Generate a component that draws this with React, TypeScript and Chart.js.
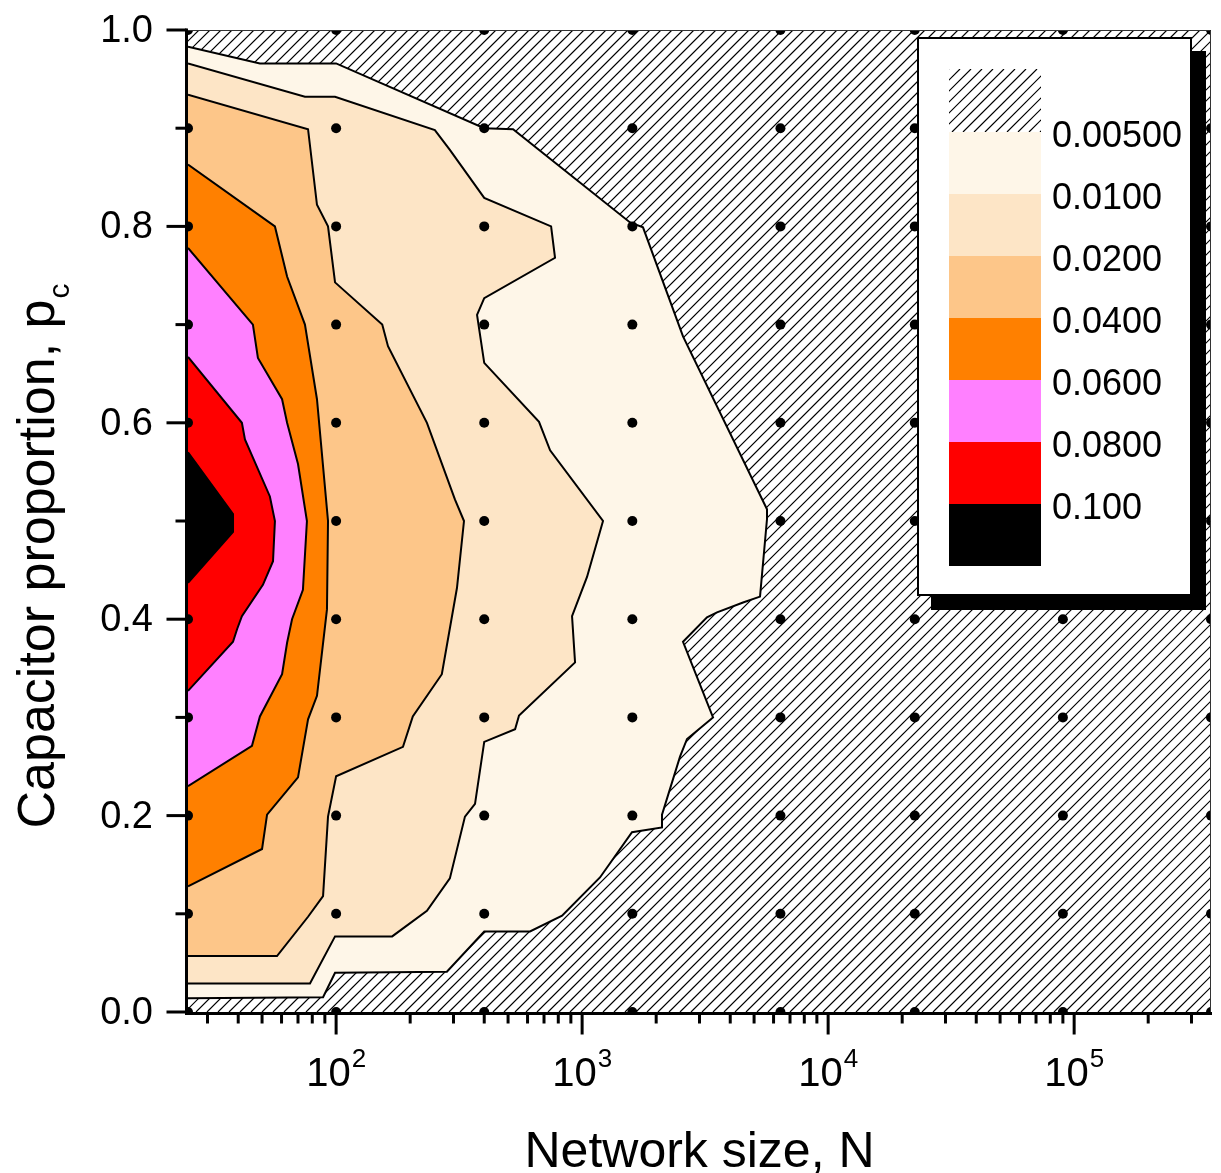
import React, { useEffect, useRef } from 'react';
import { Chart, registerables } from 'chart.js';

Chart.register(...registerables);

type Pt = [number, number];

// ---- data grid (network size N, capacitor proportion p_c) ----
const gridN = [25, 100, 400, 1600, 6400, 22500, 90000, 360000];
const gridP = [0, 0.1, 0.2, 0.3, 0.4, 0.5, 0.6, 0.7, 0.8, 0.9, 1.0];

// ---- contour levels ----
const levelLabels = ['0.00500', '0.0100', '0.0200', '0.0400', '0.0600', '0.0800', '0.100'];
const levelColors = ['#FEF6E8', '#FDE5C6', '#FDC689', '#FF8000', '#FF80FF', '#FF0000', '#000000'];

// contour boundaries [N, p_c]
const contour005: Pt[] = [
  [25, 0.983], [49, 0.966], [100, 0.966], [400, 0.9], [524, 0.899], [1566, 0.804], [1768, 0.799],
  [2571, 0.688], [5643, 0.512], [5643, 0.502], [5286, 0.423], [4509, 0.417], [3535, 0.407],
  [3218, 0.402], [2571, 0.377], [3405, 0.3], [2669, 0.278], [2500, 0.26], [2112, 0.201],
  [2112, 0.188], [1595, 0.183], [1182, 0.137], [829, 0.098], [614, 0.082], [400, 0.082],
  [282, 0.041], [99, 0.04], [88.5, 0.015], [25, 0.014],
];
const contour01: Pt[] = [
  [25, 0.966], [74.7, 0.932], [99, 0.932], [252, 0.898], [290, 0.878], [400, 0.829], [748, 0.8],
  [776, 0.768], [400, 0.727], [374, 0.71], [400, 0.661], [668, 0.601], [741, 0.572], [1216, 0.5],
  [1047, 0.443], [910, 0.403], [936, 0.356], [554, 0.302], [534, 0.288], [400, 0.275], [367, 0.212],
  [334, 0.199], [290, 0.136], [234, 0.103], [169, 0.077], [99, 0.077], [78.3, 0.029], [25, 0.029],
];
const contour02: Pt[] = [
  [25, 0.934], [76.9, 0.899], [83.6, 0.822], [92.7, 0.8], [99, 0.743], [154, 0.7], [162.5, 0.678],
  [234, 0.6], [304, 0.522], [331, 0.5], [310, 0.432], [269, 0.344], [205, 0.301], [187, 0.27],
  [100, 0.24], [92.7, 0.199], [88.5, 0.118], [76.9, 0.097], [57.5, 0.057], [25, 0.057],
];
const contour04: Pt[] = [
  [25, 0.863], [56.4, 0.8], [63.2, 0.749], [74.7, 0.7], [83.6, 0.624], [92.7, 0.5], [91.8, 0.41],
  [83.6, 0.322], [76.9, 0.298], [70, 0.239], [52.4, 0.201], [50, 0.166], [25, 0.128],
];
const contour06: Pt[] = [
  [25, 0.778], [45.9, 0.7], [48.1, 0.666], [60.3, 0.624], [63.2, 0.6], [70, 0.558], [76.1, 0.5],
  [73.3, 0.43], [66.2, 0.4], [63.2, 0.376], [60.3, 0.344], [49, 0.301], [45.5, 0.271], [25, 0.23],
];
const contour08: Pt[] = [
  [25, 0.667], [41.4, 0.6], [42.6, 0.583], [53.8, 0.525], [56.4, 0.5], [55.4, 0.459], [50.4, 0.435],
  [41.4, 0.403], [39.6, 0.39], [38.1, 0.377], [25, 0.327],
];
const contour10: Pt[] = [[25, 0.57], [38.1, 0.507], [38.1, 0.489], [25, 0.437]];

const contours = [contour005, contour01, contour02, contour04, contour06, contour08, contour10];

// ---- axes ----
const xMin = 25;
const xMax = 360000;
const xMajorTicks = [100, 1000, 10000, 100000];
const xMajorExp = ['2', '3', '4', '5'];
const xMinorTicks = [
  30, 40, 50, 60, 70, 80, 90,
  200, 300, 400, 500, 600, 700, 800, 900,
  2000, 3000, 4000, 5000, 6000, 7000, 8000, 9000,
  20000, 30000, 40000, 50000, 60000, 70000, 80000, 90000,
  200000, 300000,
];
const yMajorTicks = [0, 0.2, 0.4, 0.6, 0.8, 1.0];
const yMajorLabels = ['0.0', '0.2', '0.4', '0.6', '0.8', '1.0'];
const yMinorTicks = [0.1, 0.3, 0.5, 0.7, 0.9];

const xTitle = 'Network size, N';
const yTitle = 'Capacitor proportion, p';
const yTitleSub = 'c';

const FONT = '"Liberation Sans", Arial, Helvetica, sans-serif';
const HATCH_STEP = 11;

function drawHatch(ctx: CanvasRenderingContext2D, x: number, y: number, w: number, h: number, step: number) {
  ctx.save();
  ctx.beginPath();
  ctx.rect(x, y, w, h);
  ctx.clip();
  ctx.fillStyle = '#ffffff';
  ctx.fillRect(x, y, w, h);
  ctx.strokeStyle = '#000000';
  ctx.lineWidth = 1.2;
  ctx.beginPath();
  for (let s = -h - step; s < w + h + step; s += step) {
    ctx.moveTo(x + s, y + h);
    ctx.lineTo(x + s + h, y);
  }
  ctx.stroke();
  ctx.restore();
}

function seg(ctx: CanvasRenderingContext2D, x1: number, y1: number, x2: number, y2: number) {
  ctx.beginPath();
  ctx.moveTo(x1, y1);
  ctx.lineTo(x2, y2);
  ctx.stroke();
}

const decorPlugin = {
  id: 'decor',
  beforeDraw(chart: any) {
    const ctx = chart.ctx as CanvasRenderingContext2D;
    ctx.save();
    ctx.fillStyle = '#ffffff';
    ctx.fillRect(0, 0, chart.width, chart.height);
    ctx.restore();
  },
  beforeDatasetsDraw(chart: any) {
    const a = chart.chartArea;
    drawHatch(chart.ctx, a.left, a.top, a.right - a.left, a.bottom - a.top, HATCH_STEP);
  },
  afterDatasetsDraw(chart: any) {
    const ctx = chart.ctx as CanvasRenderingContext2D;
    const xs = chart.scales.x;
    const ys = chart.scales.y;
    const a = chart.chartArea;
    ctx.save();

    // thin frame top / right
    ctx.strokeStyle = '#333333';
    ctx.lineWidth = 1;
    ctx.beginPath();
    ctx.moveTo(a.left, a.top + 0.5);
    ctx.lineTo(a.right - 0.5, a.top + 0.5);
    ctx.lineTo(a.right - 0.5, a.bottom);
    ctx.stroke();

    // axis lines
    ctx.strokeStyle = '#000000';
    ctx.lineWidth = 3;
    ctx.lineCap = 'butt';
    const ax = a.left - 1.5;
    const ay = a.bottom + 1.5;
    seg(ctx, ax, a.top - 1.5, ax, ay + 1.5);
    seg(ctx, ax - 1.5, ay, a.right + 1, ay);

    // y ticks
    yMajorTicks.forEach((v) => {
      const py = ys.getPixelForValue(v);
      seg(ctx, ax - 20, py, ax, py);
    });
    yMinorTicks.forEach((v) => {
      const py = ys.getPixelForValue(v);
      seg(ctx, ax - 11, py, ax, py);
    });
    // x ticks
    xMajorTicks.forEach((v) => {
      const px = xs.getPixelForValue(v);
      seg(ctx, px, ay, px, ay + 21);
    });
    xMinorTicks.forEach((v) => {
      const px = xs.getPixelForValue(v);
      seg(ctx, px, ay, px, ay + 10);
    });

    // y tick labels
    ctx.fillStyle = '#000000';
    ctx.font = `38px ${FONT}`;
    ctx.textAlign = 'right';
    ctx.textBaseline = 'alphabetic';
    yMajorTicks.forEach((v, i) => {
      const py = ys.getPixelForValue(v);
      ctx.fillText(yMajorLabels[i], 153, py + 12);
    });

    // x tick labels 10^k
    ctx.textAlign = 'left';
    xMajorTicks.forEach((v, i) => {
      const px = xs.getPixelForValue(v);
      ctx.font = `40px ${FONT}`;
      const w1 = ctx.measureText('10').width;
      ctx.font = `26px ${FONT}`;
      const w2 = ctx.measureText(xMajorExp[i]).width;
      const start = px - (w1 + w2 + 1) / 2;
      ctx.font = `40px ${FONT}`;
      ctx.fillText('10', start, 1086);
      ctx.font = `26px ${FONT}`;
      ctx.fillText(xMajorExp[i], start + w1 + 1, 1067);
    });

    // x title
    ctx.font = `50px ${FONT}`;
    ctx.textAlign = 'center';
    ctx.fillText(xTitle, (a.left + a.right) / 2, 1167);

    // y title (rotated, with subscript)
    ctx.save();
    ctx.translate(54, 556);
    ctx.rotate(-Math.PI / 2);
    ctx.textAlign = 'left';
    ctx.font = `52px ${FONT}`;
    const t1 = ctx.measureText(yTitle).width;
    ctx.font = `30px ${FONT}`;
    const t2 = ctx.measureText(yTitleSub).width;
    const st = -(t1 + t2 + 1) / 2;
    ctx.font = `52px ${FONT}`;
    ctx.fillText(yTitle, st, 0);
    ctx.font = `30px ${FONT}`;
    ctx.fillText(yTitleSub, st + t1 + 1, 15);
    ctx.restore();

    // legend box with shadow
    const L = { x: 917, y: 37, w: 275, h: 559, sh: 14 };
    ctx.fillStyle = '#000000';
    ctx.fillRect(L.x + L.sh, L.y + L.sh, L.w, L.h);
    ctx.fillStyle = '#ffffff';
    ctx.fillRect(L.x, L.y, L.w, L.h);
    ctx.strokeStyle = '#000000';
    ctx.lineWidth = 2;
    ctx.strokeRect(L.x + 1, L.y + 1, L.w - 2, L.h - 2);

    const swX = 949;
    const swW = 92;
    const swTop = 69;
    const hatchH = 63;
    const swH = 62;
    drawHatch(ctx, swX, swTop, swW, hatchH, HATCH_STEP);
    levelColors.forEach((c, i) => {
      ctx.fillStyle = c;
      ctx.fillRect(swX, swTop + hatchH + i * swH, swW, swH);
    });
    ctx.fillStyle = '#000000';
    ctx.font = `36px ${FONT}`;
    ctx.textAlign = 'left';
    levelLabels.forEach((lab, i) => {
      const by = swTop + hatchH + i * swH;
      ctx.fillText(lab, 1052, by + 15);
    });

    ctx.restore();
  },
};

export default function App() {
  const canvasRef = useRef<HTMLCanvasElement | null>(null);

  useEffect(() => {
    const canvas = canvasRef.current;
    if (!canvas) return;

    const polyDatasets = contours.map((c, i) => ({
      type: 'line' as const,
      label: levelLabels[i],
      data: c.map(([x, y]) => ({ x, y })),
      fill: 'shape' as const,
      backgroundColor: levelColors[i],
      borderColor: '#000000',
      borderWidth: 2,
      pointRadius: 0,
      pointHoverRadius: 0,
      tension: 0,
      order: 10 - i,
    }));

    const dotData = gridN.flatMap((n) => gridP.map((p) => ({ x: n, y: p })));

    const chart = new Chart(canvas, {
      type: 'scatter',
      data: {
        datasets: [
          {
            type: 'scatter' as const,
            label: 'grid',
            data: dotData,
            radius: 5,
            pointRadius: 5,
            pointHoverRadius: 5,
            backgroundColor: '#000000',
            pointBackgroundColor: '#000000',
            borderWidth: 0,
            pointBorderWidth: 0,
            clip: 0,
            order: 0,
          } as any,
          ...(polyDatasets as any[]),
        ],
      },
      options: {
        responsive: false,
        animation: false,
        devicePixelRatio: 1,
        events: [],
        layout: { padding: { left: 188, right: 10, top: 30, bottom: 161 } },
        scales: {
          x: { type: 'logarithmic', min: xMin, max: xMax, display: false, bounds: 'data' },
          y: { type: 'linear', min: 0, max: 1, display: false },
        },
        plugins: {
          legend: { display: false },
          tooltip: { enabled: false },
          title: { display: false },
        },
      },
      plugins: [decorPlugin],
    } as any);

    return () => {
      chart.destroy();
    };
  }, []);

  return (
    <div style={{ position: 'fixed', left: 0, top: 0, width: 1221, height: 1173, background: '#fff' }}>
      <canvas ref={canvasRef} width={1221} height={1173} style={{ display: 'block', width: 1221, height: 1173 }} />
    </div>
  );
}
